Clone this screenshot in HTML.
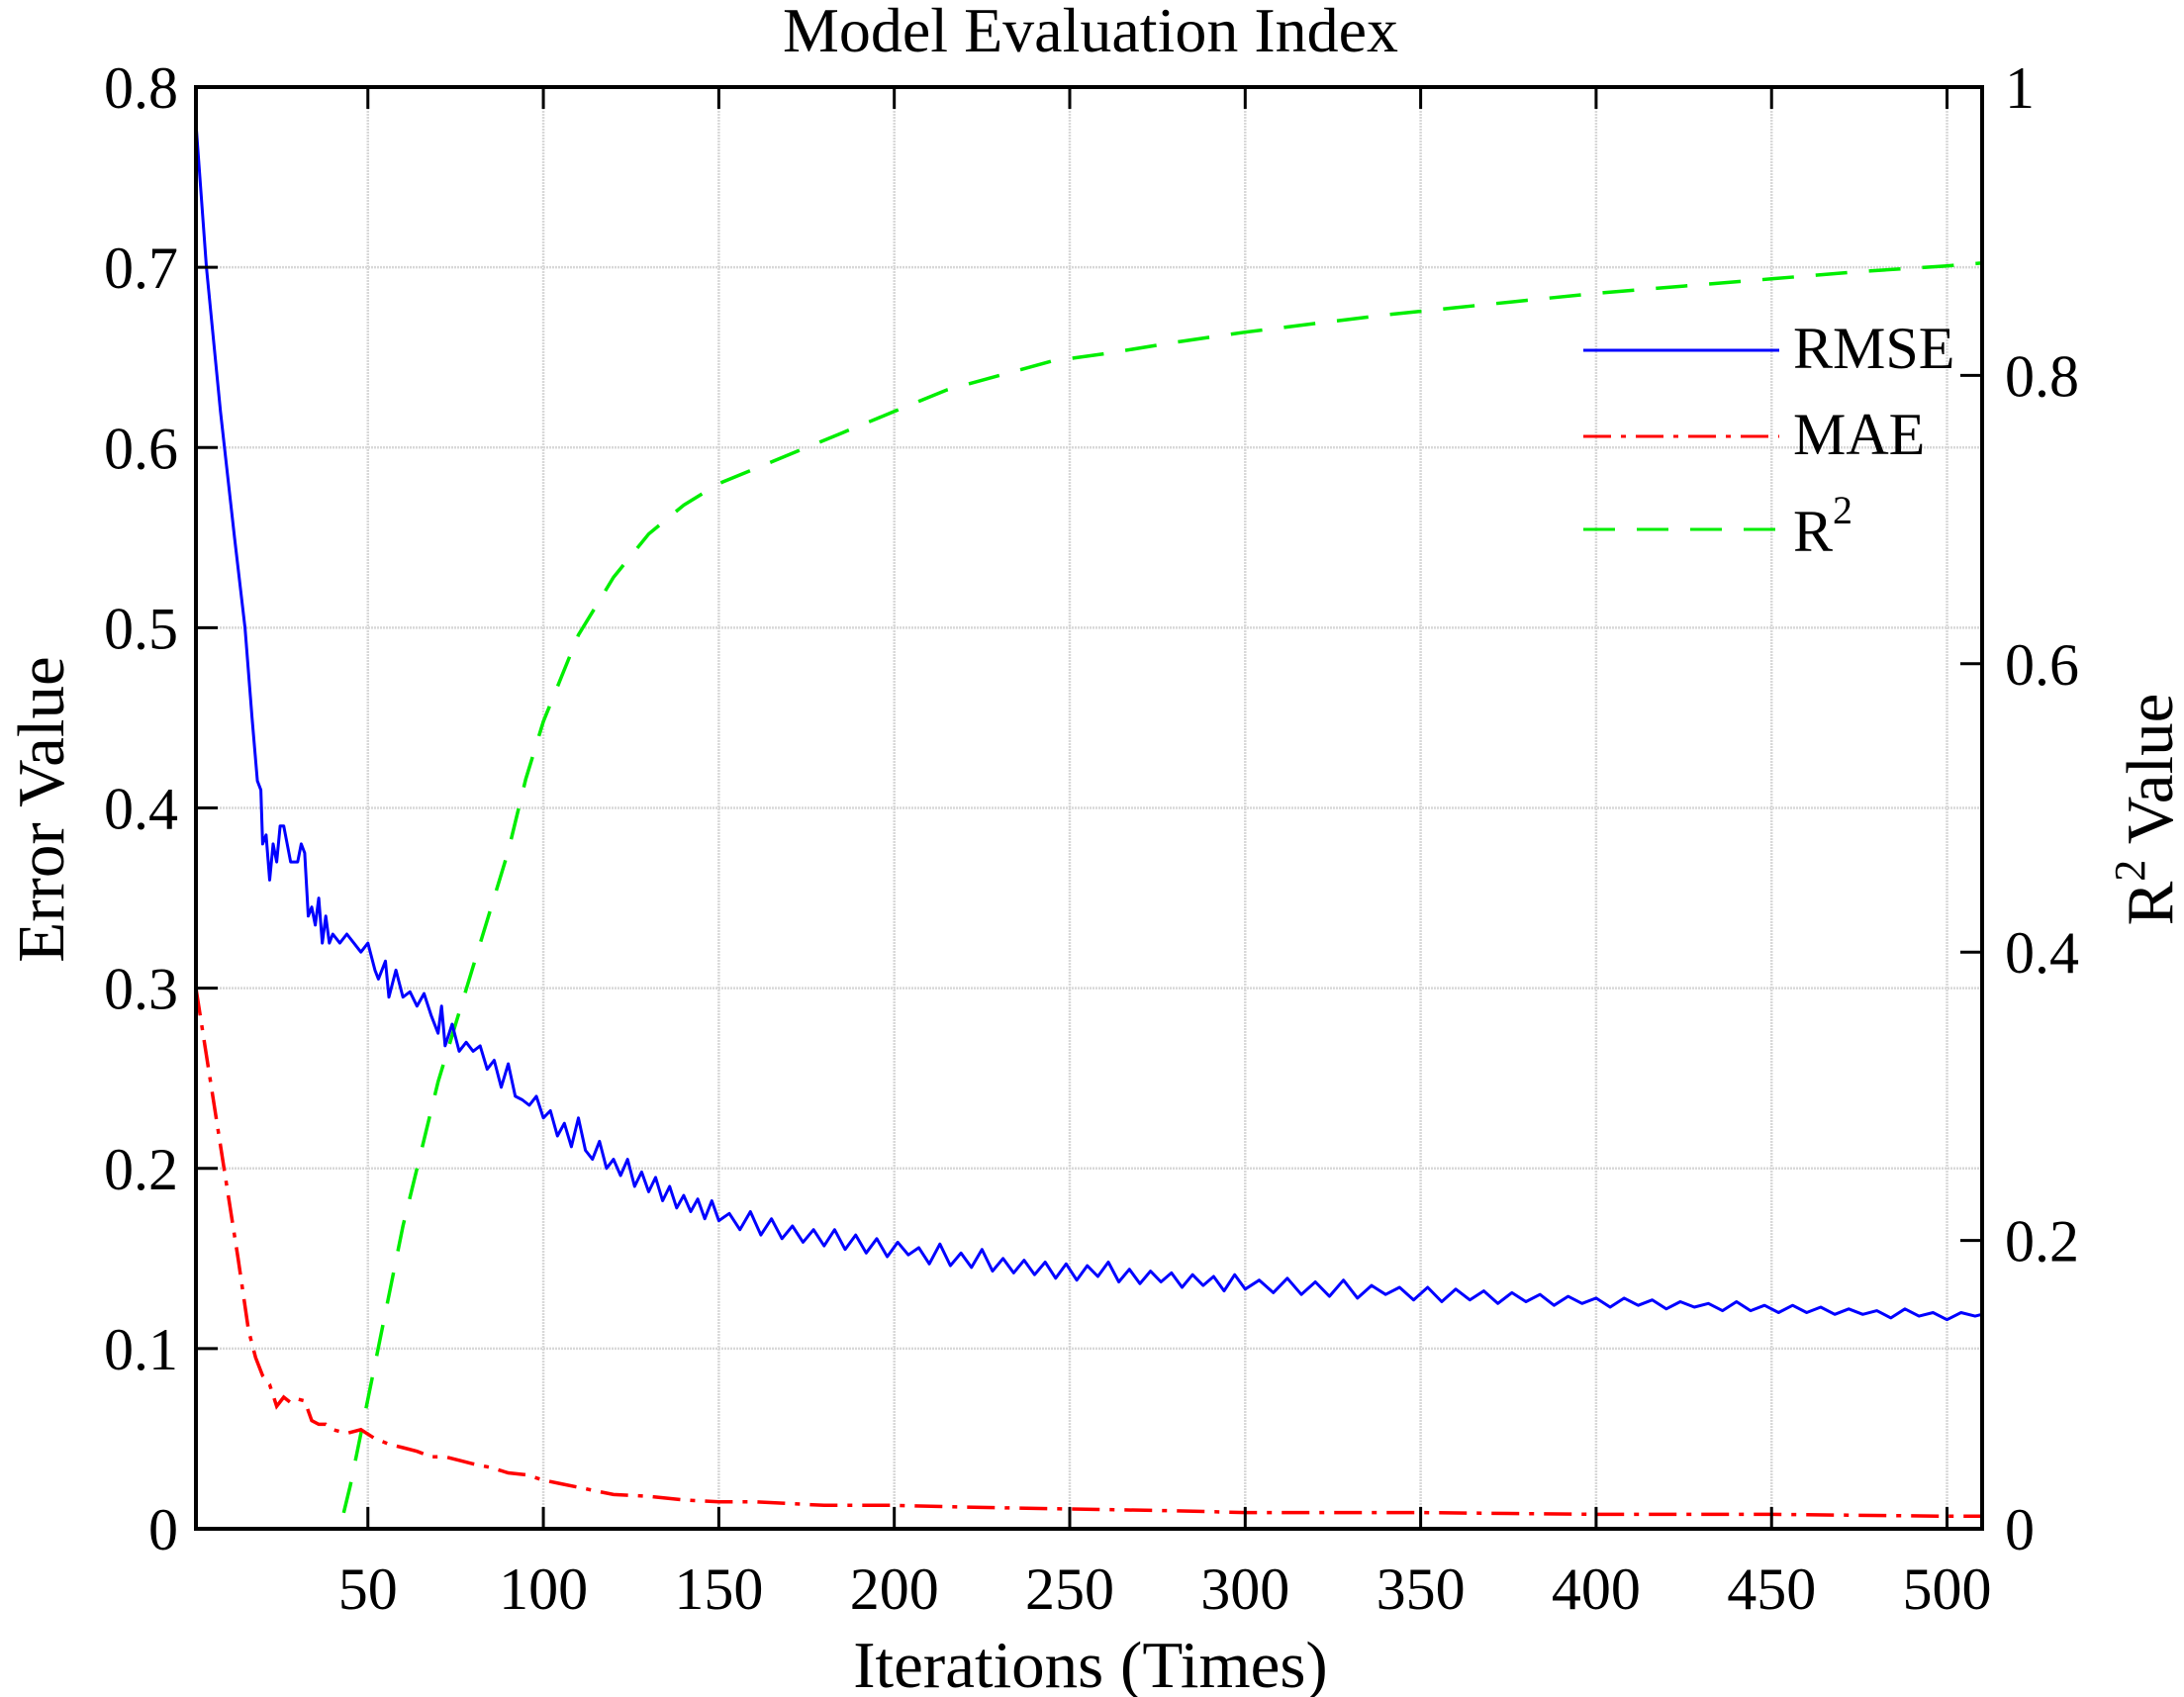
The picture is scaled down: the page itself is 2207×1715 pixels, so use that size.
<!DOCTYPE html>
<html><head><meta charset="utf-8"><style>
html,body{margin:0;padding:0;background:#fff;}
svg{display:block;font-family:"Liberation Serif",serif;}
</style></head><body>
<svg id="chart" width="2207" height="1715" viewBox="0 0 2207 1715" xmlns="http://www.w3.org/2000/svg">
<g id="grid"></g>
<g id="series"></g>
<g id="axes"></g>
<text x="1102" y="52" font-size="64" text-anchor="middle">Model Evaluation Index</text>
<text x="1102" y="1705" font-size="67" text-anchor="middle">Iterations  (Times)</text>
<text transform="translate(64,818) rotate(-90)" font-size="67" text-anchor="middle">Error Value</text>
<text transform="translate(2195,818) rotate(-90)" font-size="67" text-anchor="middle">R<tspan font-size="44" dy="-28">2</tspan><tspan dy="28"> Value</tspan></text>
<g>
<g><line x1="1600" y1="354" x2="1798" y2="354" stroke="#0000ff" stroke-width="3"/><text x="1812" y="372" font-size="60">RMSE</text></g>
<g><line x1="1600" y1="441" x2="1798" y2="441" stroke="#ff0000" stroke-width="3" stroke-dasharray="28,10,5,10"/><text x="1812" y="459" font-size="60">MAE</text></g>
<g><line x1="1600" y1="535" x2="1798" y2="535" stroke="#00ee00" stroke-width="3" stroke-dasharray="32,22"/><text x="1812" y="557" font-size="60">R<tspan font-size="40" dy="-28">2</tspan></text></g>
</g>
</svg>
<script>
const xTicks=[50,100,150,200,250,300,350,400,450,500];
const yLeftTicks=[0,0.1,0.2,0.3,0.4,0.5,0.6,0.7,0.8];
const yLeftLabels=["0","0.1","0.2","0.3","0.4","0.5","0.6","0.7","0.8"];
const yRightTicks=[0,0.2,0.4,0.6,0.8,1];
const yRightLabels=["0","0.2","0.4","0.6","0.8","1"];
const rmseIter=[1,4,8,12,15,17,18.5,19.5,20,21,22,23,24,25,26,27,28,29,30,31,32,33,34,35,36,37,38,39,40,42,44,46,48,50,52,53,55,56,58,60,62,64,66,68,70,71,72,74,76,78,80,82,84,86,88,90,92,94,96,98,100,102,104,106,108,110,112,114,116,118,120,122,124,126,128,130,132,134,136,138,140,142,144,146,148,150,153,156,159,162,165,168,171,174,177,180,183,186,189,192,195,198,201,204,207,210,213,216,219,222,225,228,231,234,237,240,243,246,249,252,255,258,261,264,267,270,273,276,279,282,285,288,291,294,297,300,304,308,312,316,320,324,328,332,336,340,344,348,352,356,360,364,368,372,376,380,384,388,392,396,400,404,408,412,416,420,424,428,432,436,440,444,448,452,456,460,464,468,472,476,480,484,488,492,496,500,504,508,510];
const rmseVal=[.78,.70,.62,.55,.50,.45,.415,.41,.38,.385,.36,.38,.37,.39,.39,.38,.37,.37,.37,.38,.375,.34,.345,.335,.35,.325,.34,.325,.33,.325,.33,.325,.32,.325,.31,.305,.315,.295,.31,.295,.298,.29,.297,.285,.275,.29,.268,.28,.265,.27,.265,.268,.255,.26,.245,.258,.24,.238,.235,.24,.228,.232,.218,.225,.212,.228,.21,.205,.215,.2,.205,.196,.205,.19,.198,.187,.195,.182,.19,.178,.185,.176,.183,.172,.182,.171,.175,.166,.176,.163,.172,.161,.168,.159,.166,.157,.166,.155,.163,.153,.161,.151,.159,.152,.156,.147,.158,.146,.153,.145,.155,.143,.15,.142,.149,.141,.148,.139,.147,.138,.146,.14,.148,.137,.144,.136,.143,.137,.142,.134,.141,.135,.14,.132,.141,.133,.138,.131,.139,.13,.137,.129,.138,.128,.135,.13,.134,.127,.134,.126,.133,.127,.132,.125,.131,.126,.13,.124,.129,.125,.128,.123,.128,.124,.127,.122,.126,.123,.125,.121,.126,.121,.124,.12,.124,.12,.123,.119,.122,.119,.121,.117,.122,.118,.12,.116,.12,.118,.119];
const maeIter=[1,5,9,13,16,18,20,22,24,26,28,30,32,34,36,38,40,44,48,52,56,60,64,68,72,76,80,85,90,95,100,105,110,115,120,130,140,150,160,170,180,200,220,250,280,300,350,400,450,500,510];
const maeVal=[.30,.25,.20,.15,.11,.095,.085,.08,.068,.073,.07,.072,.071,.06,.058,.058,.055,.053,.055,.05,.047,.045,.043,.04,.04,.038,.036,.034,.031,.03,.027,.025,.023,.021,.019,.018,.016,.015,.015,.014,.013,.013,.012,.011,.010,.009,.009,.008,.008,.007,.007];
const r2Iter=[1,42,45,50,55,60,65,70,75,80,85,90,95,100,105,110,115,120,130,140,150,160,170,185,200,215,230,245,260,280,300,320,340,360,380,400,425,450,475,500,510];
const r2Val=[0,0,0.03,0.09,0.15,0.21,0.26,0.31,0.35,0.39,0.43,0.47,0.52,0.56,0.59,0.62,0.64,0.66,0.69,0.71,0.725,0.735,0.745,0.76,0.775,0.79,0.80,0.81,0.815,0.823,0.83,0.836,0.842,0.847,0.852,0.857,0.862,0.867,0.872,0.876,0.878];

const L=198,R=2003,T=88,B=1545,X0=1,X1=510;
const NS="http://www.w3.org/2000/svg";
const sx=v=>L+(v-X0)/(X1-X0)*(R-L);
const syL=v=>B-v/0.8*(B-T);
const syR=v=>B-v*(B-T);
function mk(tag,attrs,parent){const e=document.createElementNS(NS,tag);for(const k in attrs)e.setAttribute(k,attrs[k]);parent.appendChild(e);return e;}
const grid=document.getElementById('grid'),axes=document.getElementById('axes'),series=document.getElementById('series');
xTicks.forEach(t=>{
  const x=sx(t);
  const g=mk('line',{x1:x,y1:T,x2:x,y2:B,stroke:'#d8d8d8','stroke-width':2.5,'stroke-dasharray':'2,1'},grid);
  
  
  const tb=mk('line',{x1:x,y1:B,x2:x,y2:B-22,stroke:'#000','stroke-width':3},axes);
  
  
  const tt=mk('line',{x1:x,y1:T,x2:x,y2:T+22,stroke:'#000','stroke-width':3},axes);
  
  
  const lb=mk('text',{x:x,y:1626,'font-size':60,'text-anchor':'middle'},axes);
  lb.textContent=t;
  
  
});
yLeftTicks.forEach((t,i)=>{
  const y=syL(t);
  if(t>0&&t<0.8){const g=mk('line',{x1:L,y1:y,x2:R,y2:y,stroke:'#d8d8d8','stroke-width':2.5,'stroke-dasharray':'2,1'},grid);
  
  }
  const tk=mk('line',{x1:L,y1:y,x2:L+22,y2:y,stroke:'#000','stroke-width':3},axes);
  
  
  const lb=mk('text',{x:180,y:y+21,'font-size':60,'text-anchor':'end'},axes);
  lb.textContent=yLeftLabels[i];
  
  
});
yRightTicks.forEach((t,i)=>{
  const y=syR(t);
  const tk=mk('line',{x1:R,y1:y,x2:R-22,y2:y,stroke:'#000','stroke-width':3},axes);
  
  
  const lb=mk('text',{x:2026,y:y+21,'font-size':60,'text-anchor':'start'},axes);
  lb.textContent=yRightLabels[i];
  
  
});
const frame=mk('rect',{x:L,y:T,width:R-L,height:B-T,fill:'none',stroke:'#000','stroke-width':4},axes);


function path(xs,ys,fy){return xs.map((v,i)=>(i?'L':'M')+sx(v).toFixed(1)+','+fy(ys[i]).toFixed(1)).join(' ');}
const pr=mk('path',{d:path(r2Iter,r2Val,syR),fill:'none',stroke:'#00ee00','stroke-width':3.5,'stroke-dasharray':'32,22'},series);


const pm=mk('path',{d:path(maeIter,maeVal,syL),fill:'none',stroke:'#ff0000','stroke-width':3.5,'stroke-dasharray':'28,10,5,10'},series);


const pb=mk('path',{d:path(rmseIter,rmseVal,syL),fill:'none',stroke:'#0000ff','stroke-width':3,'stroke-linejoin':'round'},series);


</script>
</body></html>
